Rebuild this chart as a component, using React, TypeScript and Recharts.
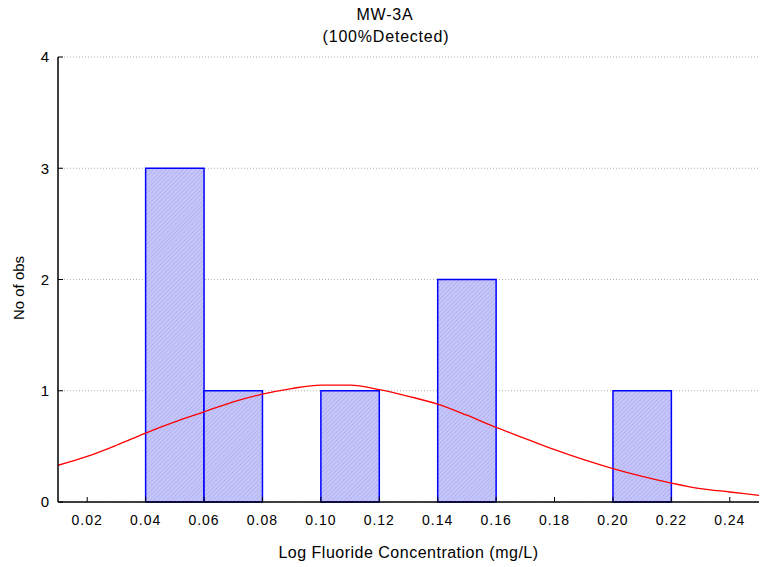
import { ComposedChart, Line, XAxis, YAxis, CartesianGrid, ReferenceArea } from "recharts";

const binStart = [0.04, 0.06, 0.1, 0.14, 0.2];
const binEnd = [0.06, 0.08, 0.12, 0.16, 0.22];
const binCount = [3, 1, 1, 2, 1];

const curveX = [0.01, 0.02, 0.03, 0.04, 0.05, 0.06, 0.07, 0.08, 0.09, 0.1, 0.11, 0.12, 0.13, 0.14, 0.15, 0.16, 0.17, 0.18, 0.19, 0.2, 0.21, 0.22, 0.23, 0.24, 0.25];
const curveY = [0.33, 0.41, 0.51, 0.62, 0.72, 0.81, 0.9, 0.97, 1.02, 1.05, 1.05, 1.01, 0.95, 0.88, 0.78, 0.67, 0.57, 0.47, 0.38, 0.3, 0.23, 0.17, 0.12, 0.09, 0.06];

const xTicks = [0.02, 0.04, 0.06, 0.08, 0.1, 0.12, 0.14, 0.16, 0.18, 0.2, 0.22, 0.24];
const yTicks = [0, 1, 2, 3, 4];

const title = "MW-3A";
const subtitle = "(100%Detected)";
const xLabel = "Log Fluoride Concentration (mg/L)";
const yLabel = "No of obs";

const font = "'Liberation Sans', Arial, sans-serif";
const X_MARGIN = 13;
const Y_MARGIN = 9;

const curve = curveX.map((x, i) => ({ x, y: curveY[i] }));

const BottomTick = (props: any) => {
  const { x, y, payload } = props;
  const base = y - X_MARGIN;
  return (
    <g>
      <line x1={x} x2={x} y1={base} y2={base - 5} stroke="#000" />
      <text x={x} y={y} dy="0.71em" textAnchor="middle" fontSize={14} letterSpacing={1} fill="#000" fontFamily={font}>
        {payload.value.toFixed(2)}
      </text>
    </g>
  );
};

const LeftTick = (props: any) => {
  const { x, y, payload } = props;
  const base = x + Y_MARGIN;
  return (
    <g>
      <line x1={base} x2={base + 5} y1={y} y2={y} stroke="#000" />
      <text x={x} y={y} dy="0.36em" textAnchor="end" fontSize={15} fill="#000" fontFamily={font}>
        {payload.value}
      </text>
    </g>
  );
};

export default function App() {
  return (
    <div style={{ position: "absolute", left: 0, top: 0, width: 761, height: 567, background: "#fff", fontFamily: font }}>
      <svg width={0} height={0} style={{ position: "absolute" }}>
        <defs>
          <pattern id="hatch" width={3} height={3} patternUnits="userSpaceOnUse" patternTransform="rotate(45)">
            <rect width={3} height={3} fill="#c6c6fa" />
            <line x1={0} y1={0} x2={0} y2={3} stroke="#a6a6ec" strokeWidth={1.2} />
          </pattern>
        </defs>
      </svg>
      <div style={{ position: "absolute", left: 0, width: 770, top: 5, textAlign: "center", fontSize: 16, letterSpacing: 0.8, lineHeight: "20px", color: "#000" }}>
        {title}
      </div>
      <div style={{ position: "absolute", left: 0, width: 772, top: 27, textAlign: "center", fontSize: 16, letterSpacing: 0.8, lineHeight: "20px", color: "#000" }}>
        {subtitle}
      </div>
      <ComposedChart width={761} height={567} data={curve} margin={{ top: 57, right: 2, bottom: 0, left: 0 }}>
        <CartesianGrid vertical={false} stroke="#b0b0b0" strokeDasharray="1 2" yAxisId="left" />
        <XAxis
          dataKey="x"
          type="number"
          domain={[0.01, 0.25]}
          ticks={xTicks}
          allowDataOverflow
          height={65}
          tickSize={0}
          tickMargin={X_MARGIN}
          tick={BottomTick}
          axisLine={{ stroke: "#000", strokeWidth: 1.5 }}
          label={{ value: xLabel, position: "insideBottom", offset: 9, fontSize: 16, letterSpacing: 0.5, fill: "#000", fontFamily: font }}
        />
        <XAxis
          xAxisId="top"
          orientation="top"
          dataKey="x"
          type="number"
          domain={[0.01, 0.25]}
          ticks={xTicks}
          allowDataOverflow
          height={0}
          mirror
          tickSize={5}
          tickFormatter={() => ""}
          tickLine={{ stroke: "#000" }}
          axisLine={{ stroke: "#000", strokeWidth: 1.5 }}
        />
        <YAxis
          yAxisId="left"
          type="number"
          domain={[0, 4]}
          ticks={yTicks}
          width={58}
          tickSize={0}
          tickMargin={Y_MARGIN}
          tick={LeftTick}
          axisLine={{ stroke: "#000", strokeWidth: 1.5 }}
          label={{
            content: () => (
              <text x={24} y={288} transform="rotate(-90 24 288)" textAnchor="middle" fontSize={15} fill="#000" fontFamily={font}>
                {yLabel}
              </text>
            ),
          }}
        />
        <YAxis
          yAxisId="right"
          orientation="right"
          type="number"
          domain={[0, 4]}
          ticks={yTicks}
          width={0}
          mirror
          tickSize={5}
          tickFormatter={() => ""}
          tickLine={{ stroke: "#000" }}
          axisLine={{ stroke: "#000", strokeWidth: 1.5 }}
        />
        {binCount.map((c, i) => (
          <ReferenceArea
            key={i}
            yAxisId="left"
            x1={binStart[i]}
            x2={binEnd[i]}
            y1={0}
            y2={c}
            fill="url(#hatch)"
            fillOpacity={1}
            stroke="#0000ff"
            strokeWidth={1.5}
            ifOverflow="visible"
          />
        ))}
        <Line
          yAxisId="left"
          dataKey="y"
          type="monotone"
          stroke="#ff0000"
          strokeWidth={1.3}
          dot={false}
          isAnimationActive={false}
        />
      </ComposedChart>
    </div>
  );
}
